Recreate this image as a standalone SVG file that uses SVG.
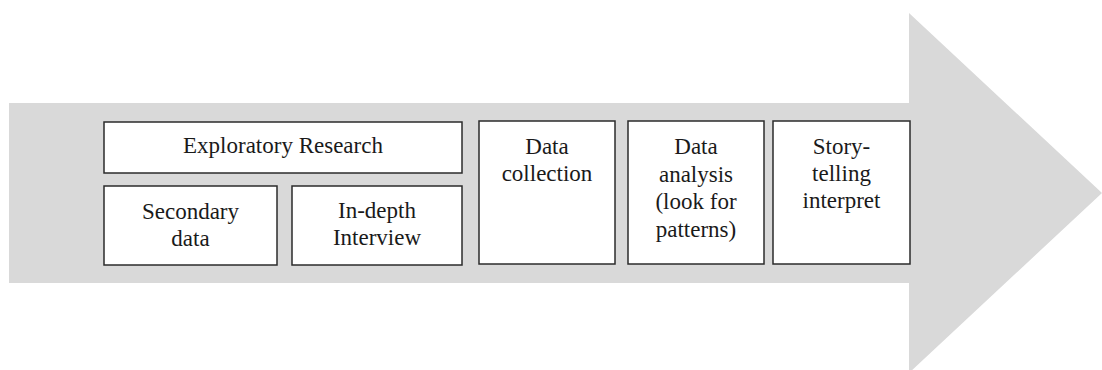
<svg xmlns="http://www.w3.org/2000/svg" width="1102" height="370" viewBox="0 0 1102 370">
<style>
.box{fill:#ffffff;stroke:#2b2b2b;stroke-width:1.5}
.t{font-family:'Liberation Serif','Times New Roman','DejaVu Serif',serif;font-size:23px;fill:#1a1a1a;text-anchor:middle}
</style>
<rect width="1102" height="370" fill="#ffffff"/>
<g id="arrow">
<polygon points="9,103 909,103 909,13 1102,193 909,373 909,283 9,283" fill="#d9d9d9"/>
</g>
<g id="connectors"></g>
<g id="exploratory">
<rect class="box" x="104" y="122" width="358" height="51"/>
<text class="t" x="283" y="153">Exploratory Research</text>
</g>
<g id="secondary">
<rect class="box" x="104" y="186" width="173" height="79"/>
<text class="t" x="190.5" y="219">Secondary</text>
<text class="t" x="190.5" y="246">data</text>
</g>
<g id="indepth">
<rect class="box" x="292" y="186" width="170" height="79"/>
<text class="t" x="377" y="218">In-depth</text>
<text class="t" x="377" y="245">Interview</text>
</g>
<g id="collection">
<rect class="box" x="479" y="121" width="136" height="143"/>
<text class="t" x="547" y="154">Data</text>
<text class="t" x="547" y="181">collection</text>
</g>
<g id="analysis">
<rect class="box" x="628" y="121" width="136" height="143"/>
<text class="t" x="696" y="154">Data</text>
<text class="t" x="696" y="181.5">analysis</text>
<text class="t" x="696" y="209">(look for</text>
<text class="t" x="696" y="236.5">patterns)</text>
</g>
<g id="storytelling">
<rect class="box" x="773" y="121" width="137" height="143"/>
<text class="t" x="841.5" y="154">Story-</text>
<text class="t" x="841.5" y="181">telling</text>
<text class="t" x="841.5" y="208">interpret</text>
</g>
</svg>
